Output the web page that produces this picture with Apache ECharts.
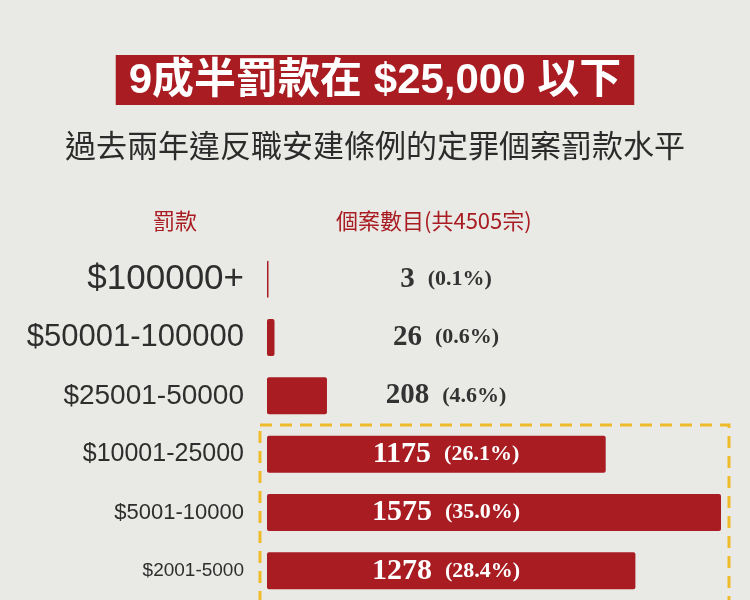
<!DOCTYPE html>
<html>
<head>
    <meta charset="utf-8" />
    <title>罰款水平</title>
    <script src="https://cdn.jsdelivr.net/npm/echarts@6/dist/echarts.min.js"></script>
    <style>
        html, body { margin: 0; padding: 0; background: #e9e9e5; }
    </style>
</head>
<body>
<div id="main" style="width:750px;height:600px;"></div>

<script type="text/javascript">
    // 罰款級別 (由高至低)
    var fineBands = ['$100000+', '$50001-100000', '$25001-50000', '$10001-25000', '$5001-10000', '$2001-5000'];
    // 個案數目
    var caseCounts = [3, 26, 208, 1175, 1575, 1278];
    // 佔總數百分比
    var casePercents = [0.1, 0.6, 4.6, 26.1, 35.0, 28.4];

    var red = '#a81c22';
    // label font size of each band, shrinking down the list
    var bandFontSize = [35, 31, 28, 25, 22, 19];

    var bandRich = {};
    bandFontSize.forEach(function (s, i) {
        bandRich['b' + i] = {
            fontSize: s,
            fontFamily: 'Liberation Sans',
            color: '#2e2e2e'
        };
    });

    var myChart = echarts.init(document.getElementById('main'));

    var option = {
        backgroundColor: '#e9e9e5',
        title: [
            {
                text: '9成半罰款在 $25,000 以下',
                left: 'center',
                top: 55,
                padding: [5, 13, 3, 13],
                backgroundColor: red,
                textStyle: {
                    color: '#fff',
                    fontSize: 42,
                    fontWeight: 'bold',
                    fontFamily: '"Liberation Sans", "Noto Sans CJK TC"',
                    lineHeight: 42
                }
            },
            {
                text: '過去兩年違反職安建條例的定罪個案罰款水平',
                left: 'center',
                top: 130,
                padding: 0,
                textStyle: {
                    color: '#2b2b2b',
                    fontSize: 31,
                    fontWeight: 'normal',
                    fontFamily: 'Noto Sans CJK TC'
                }
            }
        ],
        graphic: [
            {
                type: 'text',
                left: 153,
                top: 210,
                style: {
                    text: '罰款',
                    fill: red,
                    fontSize: 22,
                    fontFamily: 'Noto Sans CJK TC'
                }
            },
            {
                type: 'text',
                left: 336,
                top: 210,
                style: {
                    text: '個案數目(共4505宗)',
                    fill: red,
                    fontSize: 22,
                    fontFamily: 'Noto Sans CJK TC'
                }
            },
            {
                // 虛線框 (25,000 以下)
                type: 'rect',
                shape: { x: 260, y: 425, width: 469, height: 220 },
                style: {
                    fill: 'none',
                    stroke: '#f0bb2a',
                    lineWidth: 3,
                    lineDash: [12, 8]
                },
                z: 0
            }
        ],
        grid: {
            left: 267,
            right: 29,
            top: 250,
            bottom: 0,
            outerBoundsMode: 'none'
        },
        xAxis: {
            type: 'value',
            min: 0,
            max: 'dataMax',
            show: false
        },
        yAxis: {
            type: 'category',
            inverse: true,
            data: fineBands,
            axisLine: { show: false },
            axisTick: { show: false },
            splitLine: { show: false },
            axisLabel: {
                margin: 23,
                formatter: function (val, idx) {
                    return '{b' + idx + '|' + val + '}';
                },
                rich: bandRich
            }
        },
        series: [
            {
                name: '個案數目',
                type: 'bar',
                data: caseCounts,
                barWidth: 37,
                barMinHeight: 1.5,
                z: 3,
                itemStyle: {
                    color: red,
                    borderRadius: 2
                },
                label: {
                    show: true,
                    position: [179, '50%'],
                    align: 'center',
                    verticalAlign: 'middle',
                    formatter: function (p) {
                        var inside = p.value > 600;
                        var pct = casePercents[p.dataIndex].toFixed(1) + '%';
                        return inside
                            ? '{nw|' + p.value + '}{pw|(' + pct + ')}'
                            : '{nd|' + p.value + '}{pd|(' + pct + ')}';
                    },
                    rich: {
                        nw: { color: '#fff', fontSize: 30, fontWeight: 'bold', fontFamily: 'Liberation Serif', padding: [0, 13, 0, 0] },
                        pw: { color: '#fff', fontSize: 22, fontWeight: 'bold', fontFamily: 'Liberation Serif' },
                        nd: { color: '#333', fontSize: 29, fontWeight: 'bold', fontFamily: 'Liberation Serif', padding: [0, 13, 0, 0] },
                        pd: { color: '#333', fontSize: 22, fontWeight: 'bold', fontFamily: 'Liberation Serif' }
                    }
                }
            }
        ]
    };

    myChart.setOption(option);
</script>
</body>
</html>
